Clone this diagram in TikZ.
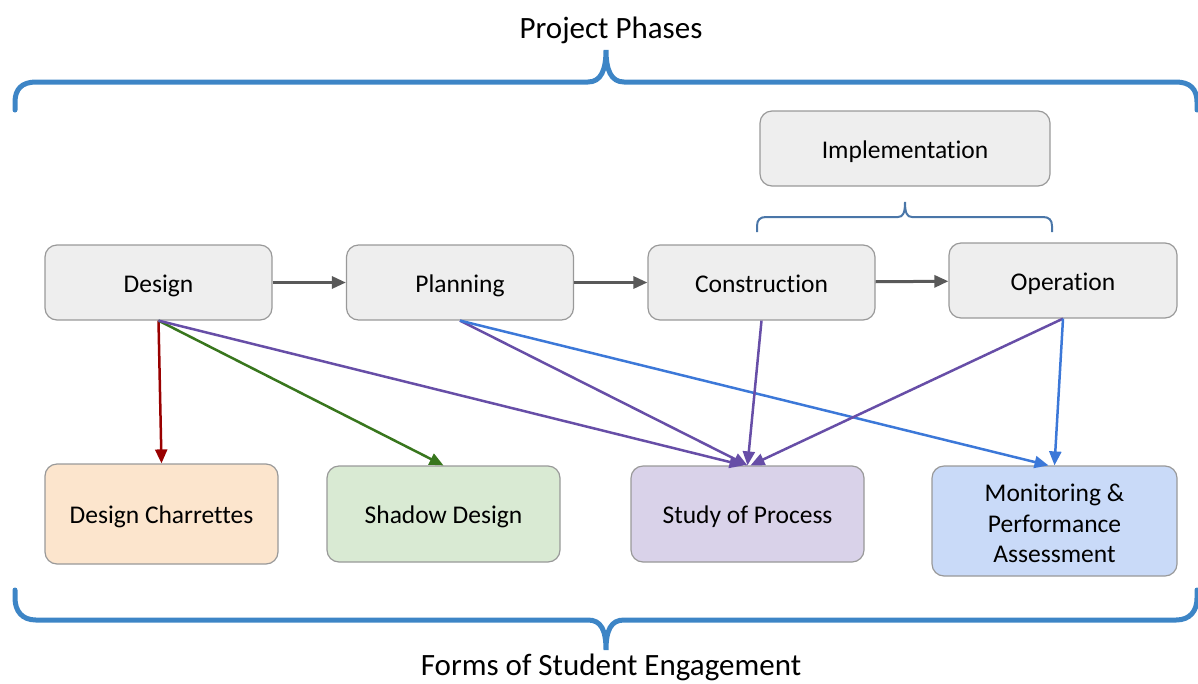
\documentclass[tikz,border=0pt]{standalone}
\usepackage{fontspec}
\setmainfont{Carlito}[Ligatures=NoCommon]
\usetikzlibrary{arrows.meta}
\tikzset{>={Triangle[length=14pt, width=12pt]}}

\definecolor{boxgray}{HTML}{EEEEEE}
\definecolor{edgegray}{HTML}{999999}
\definecolor{flowgray}{HTML}{595959}
\definecolor{charretteorange}{HTML}{FCE5CD}
\definecolor{shadowgreen}{HTML}{D9EAD3}
\definecolor{studypurple}{HTML}{D9D2E9}
\definecolor{monitorblue}{HTML}{C9DAF8}
\definecolor{linkred}{HTML}{990000}
\definecolor{linkgreen}{HTML}{38761D}
\definecolor{linkpurple}{HTML}{674EA7}
\definecolor{linkblue}{HTML}{3C78D8}
\definecolor{bracketblue}{HTML}{3D85C6}
\definecolor{smallbracket}{HTML}{4A76A8}

\tikzset{
  phase/.style={draw=edgegray, fill=boxgray, line width=1.2pt, rounded corners=12pt,
    minimum width=227pt, minimum height=75pt, align=center,
    font=\fontsize{25.5}{30.5}\selectfont},
  oneline/.style={text height=24pt, text depth=5pt},
  form/.style={phase, minimum width=233pt, minimum height=96pt},
  flow/.style={->, line width=3pt, flowgray},
  link/.style={->, line width=2.5pt},
  bracket/.style={line width=5pt, bracketblue, line cap=round},
  heading/.style={font=\fontsize{31}{36}\selectfont}
}

\begin{document}
\begin{tikzpicture}[x=1pt, y=-1pt]
\useasboundingbox (0,0) rectangle (1198,683);

% Headings
\node[heading] (phases) at (611,30) {Project Phases};
\node[heading] (forms) at (611,667) {Forms of Student Engagement};

% Outer brackets
\draw[bracket] (15,110) -- (15,102) .. controls (15,89) and (22,82) .. (36,82)
  -- (588,82) .. controls (601,82) and (606,70) .. (606,50)
  .. controls (606,70) and (611,82) .. (624,82) -- (1176,82)
  .. controls (1190,82) and (1197,89) .. (1197,102) -- (1197,110);
\draw[bracket] (15,590) -- (15,598) .. controls (15,611) and (22,620) .. (36,620)
  -- (588,620) .. controls (601,620) and (606,630) .. (606,650)
  .. controls (606,630) and (611,620) .. (624,620) -- (1176,620)
  .. controls (1190,620) and (1197,611) .. (1197,598) -- (1197,590);

% Project phases
\node[phase, oneline] (design) at (158.5,282.5) {Design};
\node[phase, oneline] (planning) at (460,282.5) {Planning};
\node[phase, oneline] (construction) at (761.5,282.5) {Construction};
\node[phase, oneline, minimum width=228pt] (operation) at (1063,280.5) {Operation};
\node[phase, oneline, minimum width=290pt] (implementation) at (905,148.5) {Implementation};

% Implementation bracket
\draw[smallbracket, line width=2pt] (757,232) -- (757,226) .. controls (757,220) and (760,217) .. (766,217)
  -- (898,217) .. controls (903,217) and (905,213) .. (905,202)
  .. controls (905,213) and (907,217) .. (912,217) -- (1043,217)
  .. controls (1049,217) and (1052,220) .. (1052,226) -- (1052,232);

% Forms of engagement
\node[form, oneline, fill=charretteorange, minimum height=100pt] (charrettes) at (161.5,514) {Design Charrettes};
\node[form, oneline, fill=shadowgreen] (shadow) at (443.5,514) {Shadow Design};
\node[form, oneline, fill=studypurple] (study) at (747.5,514) {Study of Process};
\node[form, fill=monitorblue, minimum width=245pt, minimum height=110pt] (monitoring) at (1054.5,521)
  {\rule{0pt}{23pt}Monitoring \&\\Performance\\Assessment};

% Phase flow
\draw[flow] (design) -- (planning);
\draw[flow] (planning) -- (construction);
\draw[flow] (construction) -- (operation);

% Links to engagement
\draw[link, linkred] (design.south) -- (charrettes.north);
\draw[link, linkgreen] (design.south) -- (shadow.north);
\draw[link, linkpurple] (design.south) -- ([xshift=-4pt]study.north);
\draw[link, linkpurple] (planning.south) -- (study.north);
\draw[link, linkblue] (planning.south) -- ([xshift=-6pt]monitoring.north);
\draw[link, linkpurple] (construction.south) -- (study.north);
\draw[link, linkpurple] (operation.south) -- ([xshift=3pt]study.north);
\draw[link, linkblue] (operation.south) -- (monitoring.north);

\end{tikzpicture}
\end{document}
